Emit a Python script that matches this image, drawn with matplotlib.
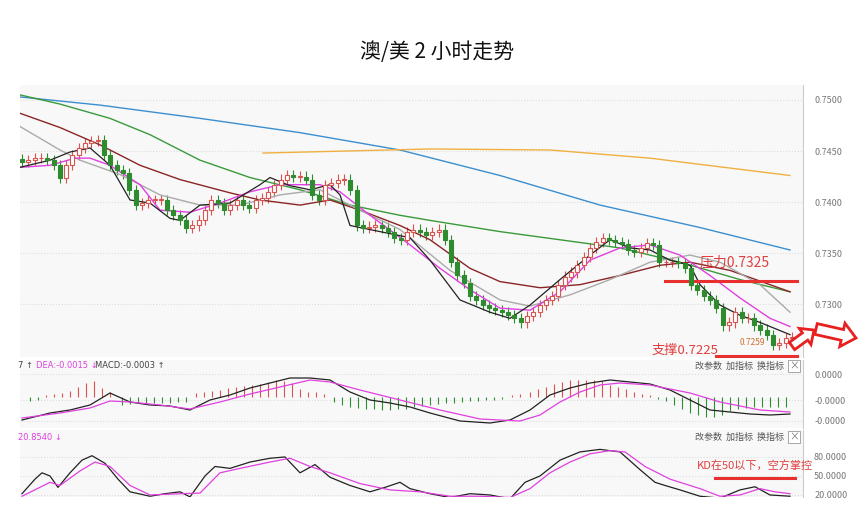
import matplotlib.pyplot as plt
import numpy as np
from matplotlib.patches import Rectangle, FancyArrow

plt.rcParams["font.family"] = ["Noto Sans CJK SC", "DejaVu Sans"]

# candle closes (price), read left to right
closes = [
    .7439, .7441, .7443, .7443, .7441, .7436, .7424, .7436, .7446, .7453, .7458, .7460, .7461,
    .7446, .7436, .7431, .7428, .7412, .7397, .7399, .7402, .7402, .7402, .7392, .7387, .7382,
    .7375, .7377, .7382, .7392, .7402, .7399, .7392, .7397, .7402, .7397, .7394, .7402, .7404,
    .7410, .7417, .7422, .7426, .7425, .7425, .7422, .7407, .7402, .7417, .7419, .7422, .7422,
    .7412, .7377, .7375, .7376, .7377, .7375, .7371, .7365, .7363, .7371, .7373, .7371, .7368,
    .7371, .7373, .7363, .7341, .7328, .7321, .7308, .7304, .7299, .7296, .7294, .7292, .7289,
    .7286, .7282, .7288, .7292, .7299, .7304, .7308, .7319, .7327, .7331, .7338, .7346, .7355,
    .7361, .7365, .7363, .7361, .7359, .7353, .7351, .7355, .7360, .7358, .7341, .7341, .7341,
    .7340, .7335, .7319, .7314, .7308, .7304, .7296, .7279, .7282, .7292, .7286, .7286, .7279,
    .7275, .7270, .7260, .7262, .7267, .7268,
]

# moving-average lines: (x position, price)
ma_blue_x = [20, 100, 200, 300, 400, 500, 600, 700, 790]
ma_blue = [.7503, .7495, .7482, .7468, .7451, .7426, .7397, .7375, .7353]
ma_orange_x = [263, 430, 550, 650, 790]
ma_orange = [.7448, .7452, .7451, .7443, .7426]
ma_green_x = [20, 60, 110, 150, 200, 250, 300, 350, 400, 430, 500, 560, 620, 680, 740, 790]
ma_green = [.7505, .7496, .7482, .7466, .7441, .7424, .7412, .7397, .7387, .7382, .7371,
            .7363, .7355, .7341, .7324, .7312]
ma_brown_x = [20, 60, 100, 140, 180, 230, 260, 300, 330, 360, 400, 430, 470, 500, 540, 580,
              620, 660, 690, 730, 790]
ma_brown = [.7487, .7473, .7456, .7436, .7422, .7409, .7402, .7397, .7402, .7392, .7377, .7363,
            .7335, .7322, .7316, .7319, .7328, .7338, .7341, .7333, .7312]
ma_gray_x = [20, 60, 80, 120, 160, 200, 240, 280, 320, 360, 400, 450, 500, 530, 570, 610, 650,
             690, 720, 760, 790]
ma_gray = [.7474, .7451, .7441, .7427, .7407, .7397, .7397, .7407, .7412, .7392, .7373, .7333,
           .7304, .7298, .7309, .7324, .7341, .7348, .7341, .7319, .7292]
ma_pink_x = [20, 50, 75, 90, 110, 140, 160, 190, 220, 250, 280, 320, 340, 370, 410, 440, 470,
             500, 530, 560, 590, 620, 650, 680, 710, 740, 770, 790]
ma_pink = [.7434, .7436, .7443, .7443, .7436, .7417, .7392, .7390, .7399, .7410, .7417, .7417,
           .7410, .7387, .7358, .7335, .7314, .7296, .7294, .7312, .7343, .7355, .7358, .7348,
           .7328, .7306, .7286, .7278]
ma_black_x = [20, 50, 70, 90, 110, 130, 150, 170, 180, 200, 230, 260, 270, 290, 310, 330, 340,
              350, 380, 410, 430, 460, 490, 510, 530, 560, 590, 610, 630, 650, 670, 690, 700,
              720, 740, 760, 790]
ma_black = [.7434, .7441, .7449, .7453, .7436, .7402, .7399, .7384, .7382, .7397, .7399, .7417,
            .7424, .7416, .7412, .7417, .7407, .7377, .7371, .7365, .7343, .7304, .7292, .7286,
            .7299, .7324, .7348, .7363, .7355, .7353, .7343, .7338, .7319, .7299, .7289, .7282,
            .7270]

# MACD panel
hist_x = [30, 38, 46, 54, 62, 70, 78, 86, 94, 102, 110, 122, 130, 138, 146, 154, 162, 170, 178,
          186, 196, 204, 212, 220, 228, 236, 244, 252, 260, 268, 276, 284, 292, 300, 308, 316,
          324, 334, 342, 350, 358, 366, 374, 382, 390, 398, 406, 414, 422, 430, 438, 446, 454,
          462, 470, 478, 486, 494, 502, 512, 520, 530, 538, 546, 554, 562, 570, 578, 586, 594,
          602, 610, 618, 626, 634, 642, 650, 658, 666, 674, 682, 690, 698, 706, 714, 722, 730,
          738, 746, 754, 762, 770, 778, 786]
hist = [-4, -3, 2, 3, 4, 6, 10, 14, 16, 9, 5, -8, -7, -6, -6, -6, -6, -6, -5, -5, 4, 5, 6, 7,
        9, 10, 11, 12, 13, 15, 17, 16, 14, 8, 5, 5, 3, -5, -8, -10, -11, -12, -12, -13, -13,
        -12, -12, -10, -9, -8, -7, -6, -6, -5, -4, -4, -3, -3, -2, 2, 3, 5, 8, 10, 13, 15, 17,
        17, 17, 17, 16, 12, 10, 8, 5, 3, 2, -2, -4, -8, -12, -16, -18, -20, -20, -18, -14, -12,
        -11, -10, -10, -10, -10, -10]
macd_x = [22, 50, 70, 90, 110, 130, 150, 170, 190, 210, 230, 250, 270, 290, 310, 330, 350, 370,
          390, 410, 430, 460, 490, 510, 530, 550, 570, 590, 610, 630, 650, 670, 690, 710, 730,
          750, 770, 790]
macd = [-23, -16, -13, -8, 4, -5, -8, -9, -13, -3, 2, 9, 14, 19, 19, 17, 5, -3, -6, -10, -16,
        -24, -26, -23, -13, 2, 9, 14, 17, 15, 13, 7, -3, -13, -15, -17, -18, -17]
dea_x = [22, 60, 90, 110, 130, 160, 190, 220, 250, 280, 310, 330, 360, 400, 440, 480, 520, 540,
         560, 580, 600, 620, 650, 690, 720, 760, 790]
dea = [-21, -16, -11, -4, -5, -8, -12, -5, 3, 10, 17, 15, 7, -3, -13, -22, -24, -18, -5, 5, 12,
       14, 12, 4, -5, -13, -15]

# KD panel
k_x = [22, 35, 42, 50, 58, 70, 82, 92, 105, 118, 130, 150, 165, 180, 190, 205, 215, 230, 250,
       270, 285, 300, 315, 330, 350, 370, 385, 400, 410, 430, 450, 470, 490, 510, 525, 540, 560,
       580, 600, 620, 640, 655, 665, 680, 700, 720, 740, 755, 770, 790]
k_val = [22, 45, 55, 50, 32, 55, 75, 82, 70, 45, 25, 18, 22, 25, 17, 50, 65, 62, 72, 78, 80, 55,
         68, 48, 35, 25, 32, 40, 30, 22, 16, 22, 20, 14, 40, 50, 75, 88, 92, 88, 60, 40, 35, 28,
         18, 15, 28, 33, 20, 18]
d_x = [22, 50, 60, 80, 95, 110, 130, 150, 180, 200, 220, 240, 270, 290, 310, 330, 360, 390,
       420, 450, 480, 510, 530, 550, 570, 590, 610, 625, 645, 670, 700, 720, 740, 760, 775, 790]
d_val = [18, 40, 35, 58, 72, 65, 35, 20, 22, 23, 55, 62, 72, 78, 65, 55, 38, 28, 25, 18, 18, 16,
         30, 55, 72, 85, 90, 88, 65, 45, 30, 18, 20, 30, 25, 22]

W, H = 861, 511
fig = plt.figure(figsize=(W / 100, H / 100), dpi=100)


def add_ax(x0, y0, x1, y1):
    return fig.add_axes([x0 / W, 1 - y1 / H, (x1 - x0) / W, (y1 - y0) / H])


bg = "#f8f8f8"
ax = add_ax(20, 85, 803, 357)
ax2 = add_ax(20, 360, 803, 428)
ax3 = add_ax(20, 430, 803, 497)
for a in (ax, ax2, ax3):
    a.set_facecolor(bg)
    a.set_xlim(20, 803)
    a.set_xticks([])
    for s in a.spines.values():
        s.set_visible(False)
    a.spines["right"].set_visible(True)
    a.spines["right"].set_color("#cccccc")
    a.yaxis.tick_right()
    a.tick_params(axis="y", length=0, labelsize=6.5, labelcolor="#777777", pad=8)
    a.grid(axis="y", color="#dddddd", ls=":", lw=0.8)

# candles
xs = np.linspace(22, 792, len(closes))
opens = [closes[0] + 0.0003] + closes[:-1]
for x, o, c in zip(xs, opens, closes):
    up = c >= o
    col = "#d9534f" if up else "#2e8b2e"
    lo, hi = min(o, c), max(o, c)
    ax.vlines(x, lo - 0.0005, hi + 0.0005, color=col, lw=0.8, zorder=2)
    ax.add_patch(Rectangle((x - 2, lo), 4, max(hi - lo, 0.00005), facecolor="white" if up else col,
                           edgecolor=col, lw=0.8, zorder=3))

ax.plot(ma_blue_x, ma_blue, color="#3b8fd0", lw=1)
ax.plot(ma_orange_x, ma_orange, color="#f0b040", lw=1)
ax.plot(ma_green_x, ma_green, color="#3a9a3a", lw=1)
ax.plot(ma_brown_x, ma_brown, color="#8b2525", lw=1)
ax.plot(ma_gray_x, ma_gray, color="#aaaaaa", lw=1)
ax.plot(ma_pink_x, ma_pink, color="#e040e0", lw=1)
ax.plot(ma_black_x, ma_black, color="#222222", lw=0.9)
ax.set_ylim(0.72481, 0.75147)
ax.set_yticks([0.73, 0.735, 0.74, 0.745, 0.75])
ax.set_yticklabels(["0.7300", "0.7350", "0.7400", "0.7450", "0.7500"])

ax.plot([665, 797], [0.7323, 0.7323], color="#e83030", lw=2.2)
ax.text(700, 0.7337, "压力0.7325", color="#e04040", fontsize=10)
ax.plot([716, 797], [0.72495, 0.72495], color="#e83030", lw=2.2, clip_on=False)
ax.text(652, 0.7251, "支撑0.7225", color="#e04040", fontsize=9.5)
ax.text(740, 0.7260, "0.7259", color="#d07030", fontsize=6)

# MACD
cols = ["#d9534f" if v > 0 else "#2e8b2e" for v in hist]
ax2.vlines(hist_x, 0, hist, colors=cols, lw=0.8)
ax2.plot(macd_x, macd, color="#222222", lw=0.9)
ax2.plot(dea_x, dea, color="#e040e0", lw=0.9)
ax2.set_ylim(-31, 37)
ax2.set_yticks([-24, -3, 23])
ax2.set_yticklabels(["-0.0000", "-0.0000", "0.0000"])
fig.text(18 / W, 1 - 366 / H, "7 ↑ ", fontsize=6, color="#444444", va="center", family=["DejaVu Sans"])
fig.text(36 / W, 1 - 366 / H, "DEA:-0.0015 ↓", fontsize=6, color="#e040e0", va="center", family=["DejaVu Sans"])
fig.text(95 / W, 1 - 366 / H, "MACD:-0.0003 ↑", fontsize=6, color="#444444", va="center", family=["DejaVu Sans"])

# KD
ax3.plot(k_x, k_val, color="#222222", lw=0.9)
ax3.plot(d_x, d_val, color="#e040e0", lw=0.9)
ax3.set_ylim(16.8, 122.6)
ax3.set_yticks([20, 50, 80])
ax3.set_yticklabels(["20.0000", "50.0000", "80.0000"])
fig.text(18 / W, 1 - 437 / H, "20.8540 ↓", fontsize=6, color="#e040e0", va="center", family=["DejaVu Sans"])
ax3.text(697, 59, "KD在50以下，空方掌控", color="#e04040", fontsize=8)
ax3.plot([715, 795], [47, 47], color="#e83030", lw=2.2)

for yy in (366, 437):
    fig.text(695 / W, 1 - yy / H, "改参数  加指标  换指标", fontsize=6.5, color="#555555", va="center")
    fig.text(794 / W, 1 - yy / H, "×", fontsize=7, color="#777777", va="center", ha="center",
             bbox=dict(boxstyle="square,pad=0.1", fc="white", ec="#999999", lw=0.6))

# hollow arrows (drawn in pixel space of the figure)
pix = fig.dpi_scale_trans + plt.matplotlib.transforms.Affine2D().scale(1 / 100)
fig.patches.append(FancyArrow(792, H - 346, 22, 16, width=9, head_width=20, head_length=11,
                              fc="white", ec="#e82020", lw=2, length_includes_head=True,
                              transform=plt.matplotlib.transforms.Affine2D().scale(1 / W, 1 / H)
                              + fig.transFigure, figure=fig))
fig.patches.append(FancyArrow(816, H - 329, 40, -9, width=11, head_width=24, head_length=14,
                              fc="white", ec="#e82020", lw=2, length_includes_head=True,
                              transform=plt.matplotlib.transforms.Affine2D().scale(1 / W, 1 / H)
                              + fig.transFigure, figure=fig))

fig.text(437 / W, 1 - 52 / H, "澳/美 2 小时走势", fontsize=15, ha="center", va="center", color="#111111")

fig.savefig("out.png", dpi=100)
